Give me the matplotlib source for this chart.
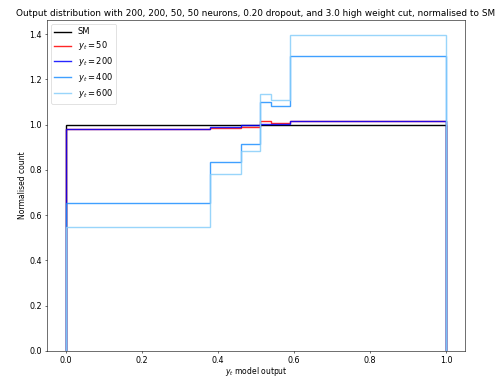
import numpy as np
import matplotlib
matplotlib.use("Agg")
import matplotlib.pyplot as plt

# bin edges of the model output histogram
edges = np.array([0.0, 0.38, 0.46, 0.51, 0.54, 0.59, 1.0])

# normalised counts per bin
sm = np.array([1.0, 1.0, 1.0, 1.0, 1.0, 1.0])
yt50 = np.array([0.982, 0.985, 0.990, 1.015, 1.009, 1.017])
yt200 = np.array([0.982, 0.988, 0.997, 1.004, 1.004, 1.017])
yt400 = np.array([0.652, 0.833, 0.913, 1.098, 1.081, 1.304])
yt600 = np.array([0.546, 0.780, 0.882, 1.135, 1.107, 1.396])

labels = ["SM", r"$y_t = 50$", r"$y_t = 200$", r"$y_t = 400$", r"$y_t = 600$"]
colours = ["black", "red", "blue", "dodgerblue", "lightskyblue"]

dpi = 50
fig = plt.figure(figsize=(502 / dpi, 378 / dpi), dpi=dpi)
ax = fig.add_axes([47 / 502, 1 - 351 / 378, (465 - 47) / 502, (351 - 20) / 378])

for vals, lab, col in zip([sm, yt50, yt200, yt400, yt600], labels, colours):
    ax.stairs(vals, edges, baseline=0, color=col, label=lab, linewidth=2,
              alpha=0.85 if lab != "SM" else 1.0)

ax.set_xlim(-0.05, 1.05)
ax.set_ylim(0, 1.462)
ax.tick_params(labelsize=11.5)
ax.tick_params(axis="x", pad=3)
ax.set_xlabel(r"$y_t$ model output", fontsize=11, labelpad=1)
ax.set_ylabel("Normalised count", fontsize=11)
ax.set_title("Output distribution with 200, 200, 50, 50 neurons, 0.20 dropout, "
             "and 3.0 high weight cut, normalised to SM", fontsize=12.85)
ax.legend(loc="upper left", fontsize=12, labelspacing=0.35)

fig.savefig("out.png", dpi=dpi)
